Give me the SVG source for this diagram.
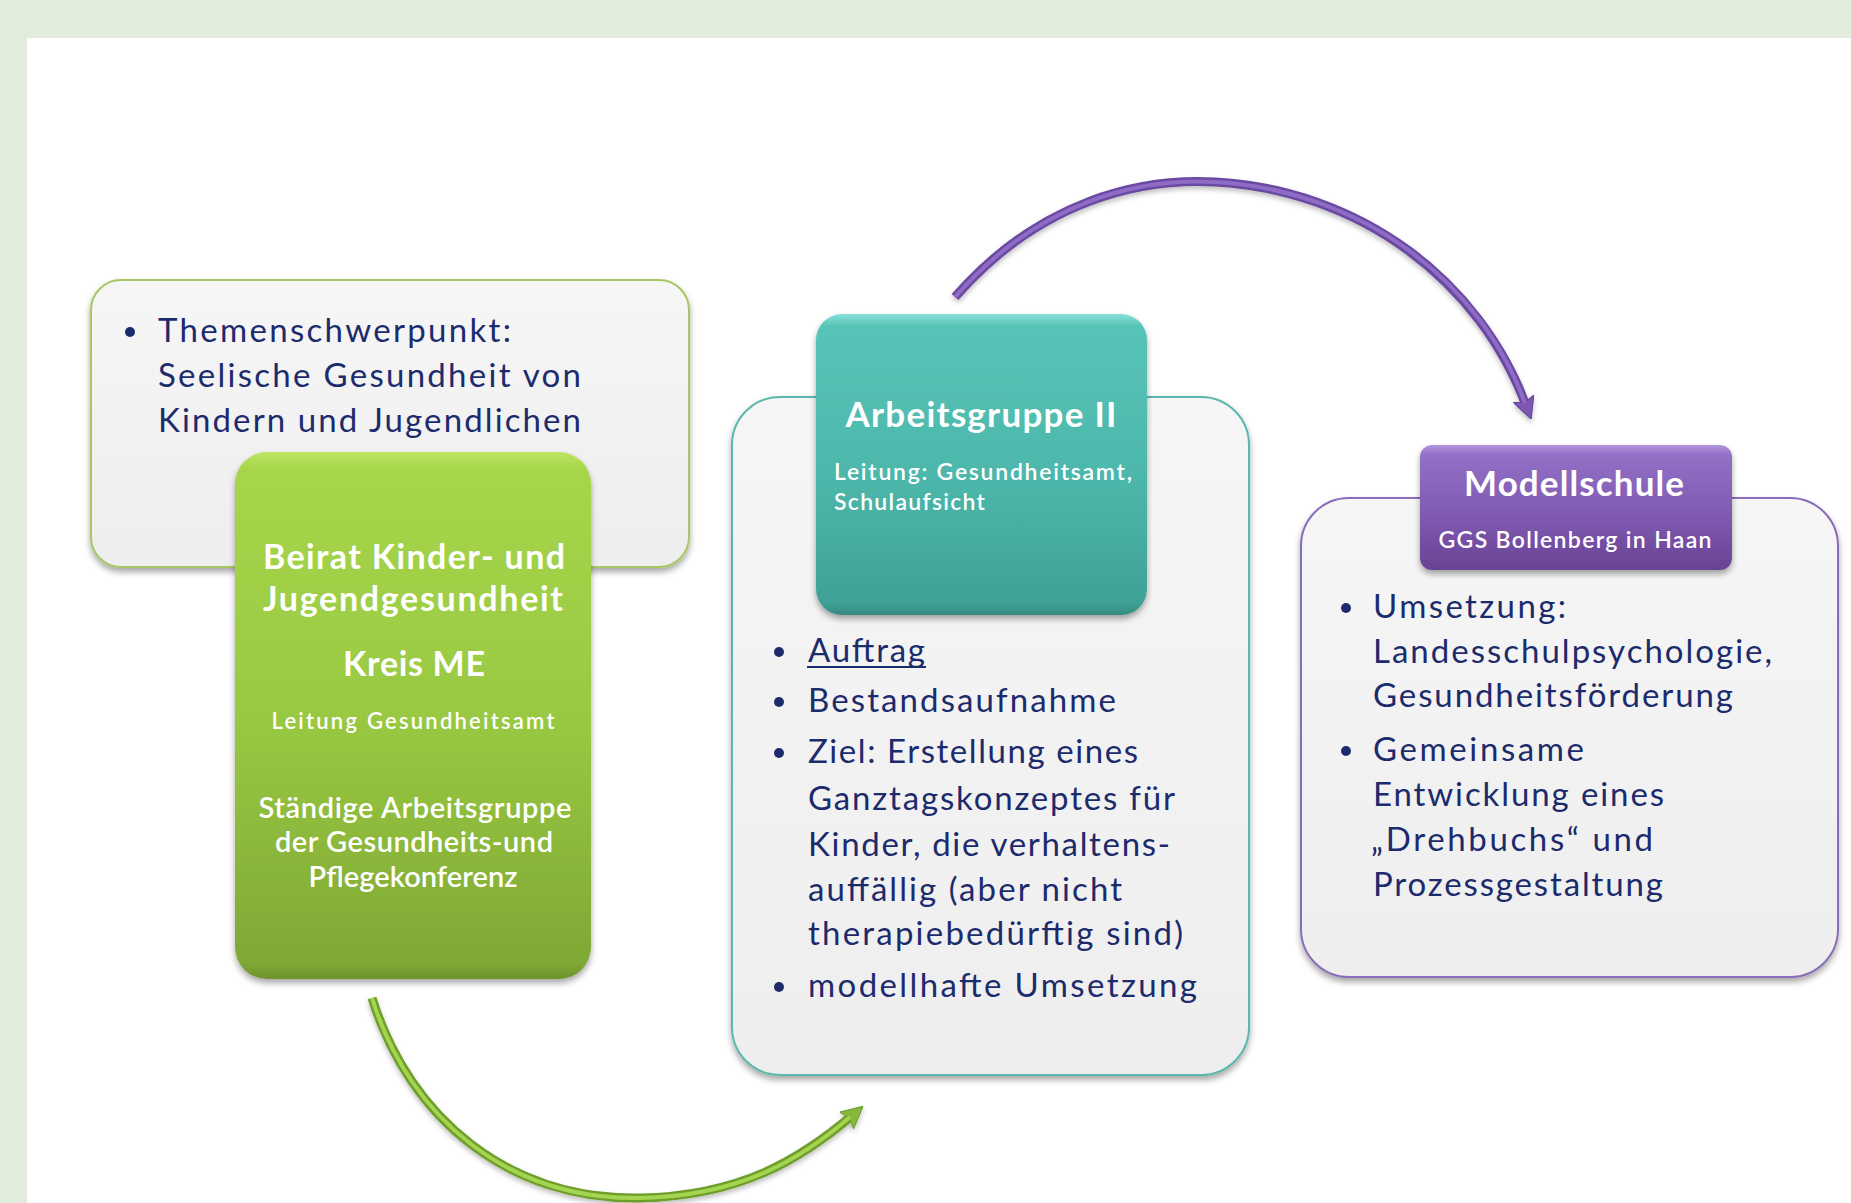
<svg xmlns="http://www.w3.org/2000/svg" width="1851" height="1203" viewBox="0 0 1851 1203">
<defs>
<style>
.body{font-family:Lato,"Open Sans","Liberation Sans",sans-serif;font-size:33px;fill:#1c2b6c}
.wt{font-family:Lato,"Open Sans","Liberation Sans",sans-serif;fill:#ffffff}
.h{font-weight:700}
.sb{font-weight:600}
.dot{fill:#1c2b6c}
.panel{fill:url(#panelGrad);stroke-width:2}
</style>
<linearGradient id="panelGrad" x1="0" y1="0" x2="0" y2="1">
<stop offset="0" stop-color="#f6f6f6"/>
<stop offset="1" stop-color="#eeeeee"/>
</linearGradient>
<linearGradient id="greenGrad" x1="0" y1="0" x2="0" y2="1">
<stop offset="0" stop-color="#bde565"/>
<stop offset="0.03" stop-color="#a7d64b"/>
<stop offset="0.5" stop-color="#99c942"/>
<stop offset="0.97" stop-color="#80a835"/>
<stop offset="1" stop-color="#6f922c"/>
</linearGradient>
<linearGradient id="tealGrad" x1="0" y1="0" x2="0" y2="1">
<stop offset="0" stop-color="#88e2d8"/>
<stop offset="0.04" stop-color="#58c4b7"/>
<stop offset="0.55" stop-color="#4cb7aa"/>
<stop offset="0.96" stop-color="#40a196"/>
<stop offset="1" stop-color="#368a80"/>
</linearGradient>
<linearGradient id="purpleGrad" x1="0" y1="0" x2="0" y2="1">
<stop offset="0" stop-color="#b295dd"/>
<stop offset="0.08" stop-color="#9270c6"/>
<stop offset="0.6" stop-color="#7e58b0"/>
<stop offset="1" stop-color="#684392"/>
</linearGradient>
<filter id="shadow" x="-10%" y="-10%" width="120%" height="125%">
<feDropShadow dx="0" dy="4" stdDeviation="3" flood-color="#000000" flood-opacity="0.35"/>
</filter>
<filter id="shadowSoft" x="-10%" y="-10%" width="120%" height="125%">
<feDropShadow dx="0" dy="3" stdDeviation="2.5" flood-color="#000000" flood-opacity="0.25"/>
</filter>
<marker id="headGreen" markerUnits="userSpaceOnUse" viewBox="0 0 22 22" markerWidth="22" markerHeight="22" refX="10" refY="11" orient="auto">
<path d="M0,0 L22,11 L0,22 L4,11 z" fill="#86b93a" stroke="#6a9a2a" stroke-width="1"/>
</marker>
<marker id="headPurple" markerUnits="userSpaceOnUse" viewBox="0 0 22 22" markerWidth="22" markerHeight="22" refX="10" refY="11" orient="auto">
<path d="M0,0 L22,11 L0,22 L4,11 z" fill="#7b56b0" stroke="#63409a" stroke-width="1"/>
</marker>
</defs>

<rect x="0" y="0" width="1851" height="1203" fill="#e1ecdc"/>
<rect x="27" y="38" width="1824" height="1165" fill="#ffffff"/>

<g id="connectors">
<path d="M372,998 C410,1120 510,1200 640,1198 C740,1196 800,1160 854,1114" fill="none" stroke="#6f9e2c" stroke-width="9" stroke-linecap="butt" marker-end="url(#headGreen)" filter="url(#shadowSoft)"/>
<path d="M372,998 C410,1120 510,1200 640,1198 C740,1196 800,1160 850,1117" fill="none" stroke="#a3d551" stroke-width="4" stroke-linecap="butt"/>
<path d="M955,297 C1040,200 1140,178 1215,182 C1360,190 1480,280 1527,408" fill="none" stroke="#6b48a2" stroke-width="9" stroke-linecap="butt" marker-end="url(#headPurple)" filter="url(#shadowSoft)"/>
<path d="M955,297 C1040,200 1140,178 1215,182 C1360,190 1480,280 1525,403" fill="none" stroke="#8e6cc6" stroke-width="4" stroke-linecap="butt"/>
</g>

<g id="themenschwerpunkt">
<rect class="panel" x="91" y="280" width="598" height="287" rx="30" stroke="#a7c762" filter="url(#shadow)"/>
<circle class="dot" cx="130" cy="332" r="5"/>
<text class="body" x="158" y="342" textLength="353">Themenschwerpunkt:</text>
<text class="body" x="158" y="387" textLength="423">Seelische Gesundheit von</text>
<text class="body" x="158" y="432" textLength="423">Kindern und Jugendlichen</text>
</g>

<g id="beirat">
<rect x="235" y="452" width="356" height="527" rx="32" fill="url(#greenGrad)" filter="url(#shadow)"/>
<text class="wt h" x="414" y="569" font-size="34" text-anchor="middle" textLength="302">Beirat Kinder- und</text>
<text class="wt h" x="413" y="611" font-size="34" text-anchor="middle" textLength="300">Jugendgesundheit</text>
<text class="wt h" x="414" y="676" font-size="34" text-anchor="middle" textLength="142">Kreis ME</text>
<text class="wt sb" x="413" y="729" font-size="22" text-anchor="middle" textLength="283">Leitung Gesundheitsamt</text>
<text class="wt sb" x="415" y="818" font-size="29" text-anchor="middle" textLength="313">Ständige Arbeitsgruppe</text>
<text class="wt sb" x="414" y="852" font-size="29" text-anchor="middle" textLength="278">der Gesundheits-und</text>
<text class="wt sb" x="413" y="887" font-size="29" text-anchor="middle" textLength="209">Pflegekonferenz</text>
</g>

<g id="arbeitsgruppe">
<rect class="panel" x="732" y="397" width="517" height="678" rx="48" stroke="#5ab8ae" filter="url(#shadow)"/>
<rect x="816" y="314" width="331" height="301" rx="26" fill="url(#tealGrad)" filter="url(#shadow)"/>
<text class="wt h" x="981" y="427" font-size="35" text-anchor="middle" textLength="271">Arbeitsgruppe II</text>
<text class="wt sb" x="834" y="480" font-size="23" textLength="298">Leitung: Gesundheitsamt,</text>
<text class="wt sb" x="834" y="510" font-size="23" textLength="151">Schulaufsicht</text>
<circle class="dot" cx="779" cy="652" r="5"/>
<text class="body" x="808" y="662" textLength="117">Auftrag</text>
<line x1="807" y1="667" x2="926" y2="667" stroke="#1c2b6c" stroke-width="2"/>
<circle class="dot" cx="779" cy="702" r="5"/>
<text class="body" x="808" y="712" textLength="308">Bestandsaufnahme</text>
<circle class="dot" cx="779" cy="753" r="5"/>
<text class="body" x="808" y="763" textLength="330">Ziel: Erstellung eines</text>
<text class="body" x="808" y="810" textLength="367">Ganztagskonzeptes für</text>
<text class="body" x="808" y="856" textLength="362">Kinder, die verhaltens-</text>
<text class="body" x="808" y="901" textLength="314">auffällig (aber nicht</text>
<text class="body" x="808" y="945" textLength="375">therapiebedürftig sind)</text>
<circle class="dot" cx="779" cy="987" r="5"/>
<text class="body" x="808" y="997" textLength="389">modellhafte Umsetzung</text>
</g>

<g id="modellschule">
<rect class="panel" x="1301" y="498" width="537" height="479" rx="48" stroke="#8a6db8" filter="url(#shadow)"/>
<rect x="1420" y="445" width="312" height="125" rx="12" fill="url(#purpleGrad)" filter="url(#shadow)"/>
<text class="wt h" x="1574" y="496" font-size="35" text-anchor="middle" textLength="220">Modellschule</text>
<text class="wt sb" x="1575" y="548" font-size="23" text-anchor="middle" textLength="273">GGS Bollenberg in Haan</text>
<circle class="dot" cx="1346" cy="608" r="5"/>
<text class="body" x="1373" y="618" textLength="193">Umsetzung:</text>
<text class="body" x="1373" y="663" textLength="399">Landesschulpsychologie,</text>
<text class="body" x="1373" y="707" textLength="360">Gesundheitsförderung</text>
<circle class="dot" cx="1346" cy="751" r="5"/>
<text class="body" x="1373" y="761" textLength="211">Gemeinsame</text>
<text class="body" x="1373" y="806" textLength="291">Entwicklung eines</text>
<text class="body" x="1371" y="851" textLength="282">„Drehbuchs“ und</text>
<text class="body" x="1373" y="896" textLength="290">Prozessgestaltung</text>
</g>
</svg>
